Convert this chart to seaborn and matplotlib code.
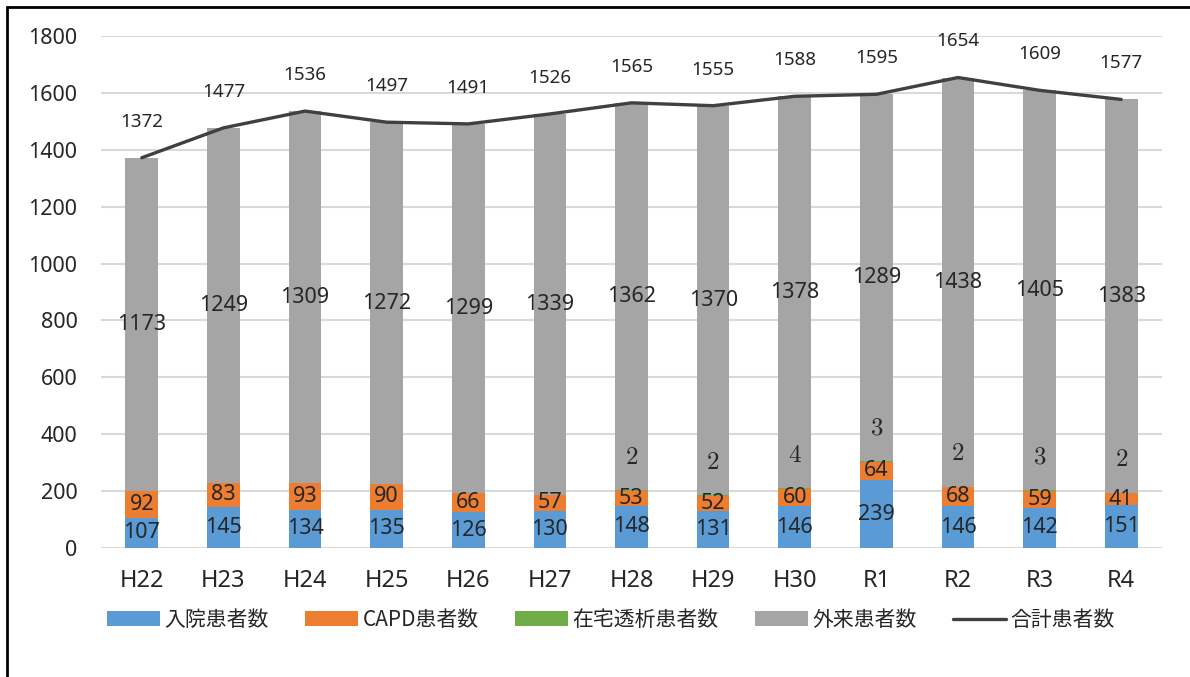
import numpy as np
import pandas as pd
import matplotlib
matplotlib.use("Agg")
import matplotlib.pyplot as plt
import seaborn as sns
from matplotlib.lines import Line2D
from matplotlib.patches import Patch

categories = ["H22", "H23", "H24", "H25", "H26", "H27", "H28", "H29", "H30", "R1", "R2", "R3", "R4"]
inpatient = [107, 145, 134, 135, 126, 130, 148, 131, 146, 239, 146, 142, 151]
capd = [92, 83, 93, 90, 66, 57, 53, 52, 60, 64, 68, 59, 41]
home = [0, 0, 0, 0, 0, 0, 2, 2, 4, 3, 2, 3, 2]
outpatient = [1173, 1249, 1309, 1272, 1299, 1339, 1362, 1370, 1378, 1289, 1438, 1405, 1383]
total = [1372, 1477, 1536, 1497, 1491, 1526, 1565, 1555, 1588, 1595, 1654, 1609, 1577]
yticks = [0, 200, 400, 600, 800, 1000, 1200, 1400, 1600, 1800]

series_names = ["入院患者数", "CAPD患者数", "在宅透析患者数", "外来患者数"]
line_name = "合計患者数"
colors = ["#5B9BD5", "#ED7D31", "#70AD47", "#A5A5A5"]
line_color = "#404040"
text_color = "#262626"

sns.set_theme(style="white")
plt.rcParams["font.family"] = ["Noto Sans CJK JP", "DejaVu Sans"]
plt.rcParams["mathtext.fontset"] = "cm"

fig = plt.figure(figsize=(11.9, 6.77), dpi=100)
ax = fig.add_axes([101 / 1190, 1 - 548 / 677, 1061 / 1190, 512 / 677])

series = [inpatient, capd, home, outpatient]
cum = np.cumsum(np.array(series, dtype=float), axis=0)
df = pd.DataFrame({"cat": categories})
# draw tallest first so lower segments overlay
for i in range(3, -1, -1):
    df["v"] = cum[i]
    sns.barplot(data=df, x="cat", y="v", color=colors[i], width=0.4, ax=ax,
                saturation=1, edgecolor="none", linewidth=0, zorder=2)

x = np.arange(len(categories))
sns.lineplot(x=x, y=total, color=line_color, linewidth=2.4, ax=ax, zorder=4)

ax.set_xlim(-0.5, len(categories) - 0.5)
ax.set_ylim(0, 1800)
ax.set_yticks(yticks)
ax.set_yticklabels([str(t) for t in yticks], fontfamily="Noto Sans", fontsize=15.5)
ax.set_xticks(x)
ax.set_xticklabels(categories, fontfamily="Noto Sans", fontsize=17)
ax.set_xlabel("")
ax.set_ylabel("")
ax.grid(axis="y", color="#D9D9D9", linewidth=1.5, zorder=0)
ax.set_axisbelow(True)
for s in ax.spines.values():
    s.set_visible(False)
ax.tick_params(axis="both", length=0, colors=text_color)
ax.tick_params(axis="y", pad=17)
ax.tick_params(axis="x", pad=15)

lbl_kw = dict(ha="center", va="center", fontsize=15.5, color=text_color, family="Noto Sans", zorder=5)
for j in range(len(categories)):
    ax.text(j, inpatient[j] / 2, str(inpatient[j]), **lbl_kw)
    ax.text(j, cum[0][j] + capd[j] / 2, str(capd[j]), **lbl_kw)
    if home[j] > 0:
        ax.annotate(r"$%d$" % home[j], (j, cum[2][j]), xytext=(0, 24), textcoords="offset points",
                    ha="center", va="center", fontsize=18, color=text_color, zorder=5)
    ax.text(j, cum[2][j] + outpatient[j] / 2, str(outpatient[j]), **lbl_kw)
    ax.annotate(str(total[j]), (j, total[j]), xytext=(0, 26), textcoords="offset points",
                ha="center", va="center", fontsize=13.5, color=text_color, family="Noto Sans", zorder=5)

handles = [Patch(facecolor=c, edgecolor="none") for c in colors]
handles.append(Line2D([0], [0], color=line_color, linewidth=2.4))
labels = series_names + [line_name]
fig.legend(handles, labels, loc="center", bbox_to_anchor=(611 / 1190, 1 - 620 / 677),
           ncol=5, frameon=False, fontsize=15, handlelength=2.55, handleheight=0.72,
           columnspacing=1.75, handletextpad=0.2, labelcolor=text_color)

# outer frame (top and left visible)
fig.add_artist(Line2D([7 / 1190, 1.0], [1 - 7 / 677, 1 - 7 / 677], color="black", linewidth=2, transform=fig.transFigure))
fig.add_artist(Line2D([7 / 1190, 7 / 1190], [0, 1 - 7 / 677], color="black", linewidth=2, transform=fig.transFigure))

fig.savefig("out.png", dpi=100, facecolor="white")
